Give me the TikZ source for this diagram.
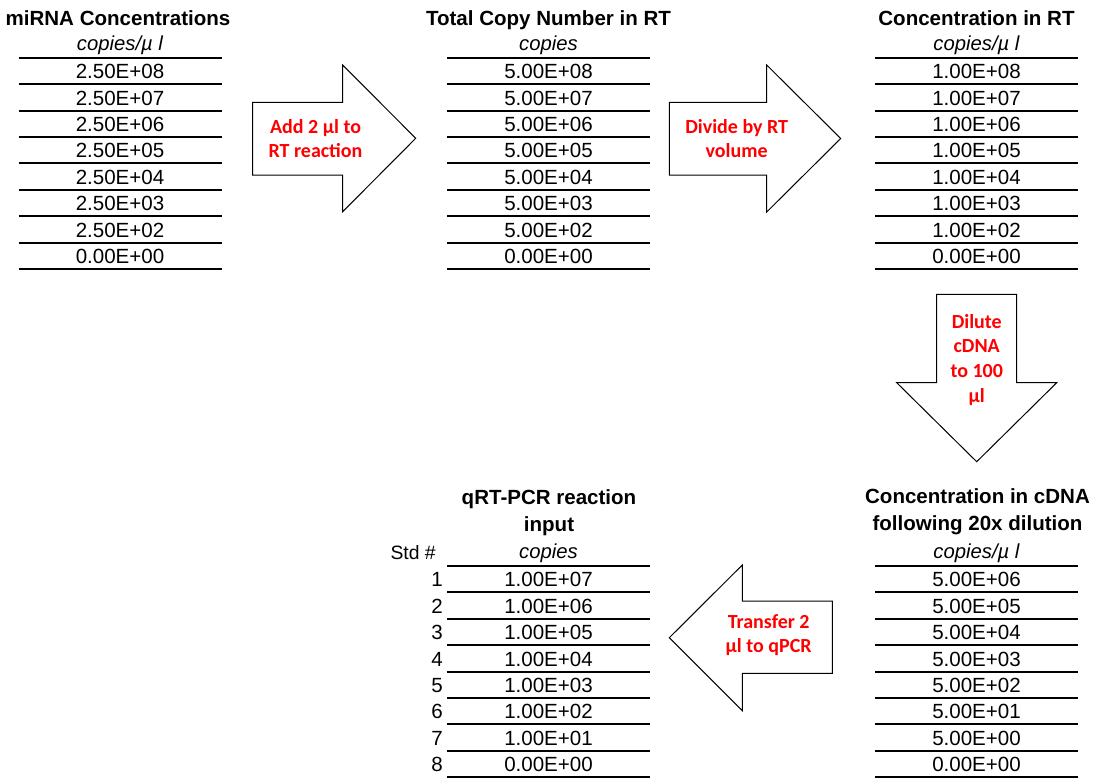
\documentclass[tikz,border=0pt]{standalone}
\usepackage{fontspec}
\setmainfont{Liberation Sans}
\newfontfamily\calfont{Carlito}
\begin{document}
\begin{tikzpicture}[x=0.75pt,y=-0.75pt,
  ttl/.style={font=\fontsize{15.4}{20.25}\selectfont\bfseries, align=center, inner sep=0pt},
  sub/.style={font=\fontsize{15.2}{18}\selectfont\itshape, anchor=base, inner sep=0pt},
  val/.style={font=\fontsize{15.4}{18}\selectfont, anchor=base, inner sep=0pt},
  rule/.style={line width=1.5pt},
  blockarrow/.style={draw=black, line width=0.75pt, fill=white, line join=miter},
  lab/.style={font=\calfont\fontsize{15}{18.5}\selectfont\bfseries, text=red, align=center, inner sep=0pt}
]
\useasboundingbox (0,0) rectangle (1096,779);

% ---------- block arrows ----------
\draw[blockarrow] (252.7,102.3) -- (342.7,102.3) -- (342.7,65) -- (415.7,138.3) -- (342.7,211.7) -- (342.7,175) -- (252.7,175) -- cycle;
\node[lab] (L1) at (315.5,138.5) {Add 2 µl to\\RT reaction};

\draw[blockarrow] (669.3,102.3) -- (766.7,102.3) -- (766.7,65) -- (840.7,138.5) -- (766.7,212) -- (766.7,175) -- (669.3,175) -- cycle;
\node[lab] (L2) at (736.7,138.5) {Divide by RT\\volume};

\draw[blockarrow] (936.7,294.3) -- (1016.7,294.3) -- (1016.7,382.7) -- (1056.7,382.7) -- (976.7,461.7) -- (896.7,382.7) -- (936.7,382.7) -- cycle;
\node[lab] (L3) at (976.7,359.8) {Dilute\\cDNA\\to 100\\µl};

\draw[blockarrow] (832.3,601) -- (742.3,601) -- (742.3,565) -- (669.3,637.7) -- (742.3,710.7) -- (742.3,673.3) -- (832.3,673.3) -- cycle;
\node[lab] (L4) at (768.7,635.1) {Transfer 2\\µl to qPCR};

% ---------- table A: miRNA Concentrations ----------
\node[ttl, anchor=base] (At) at (118,25) {miRNA Concentrations};
\node[sub] (As) at (120,50) {copies/µ l};
\draw[rule] (18.5,57.7) -- (222,57.7);
\foreach \v [count=\i] in {2.50E+08,2.50E+07,2.50E+06,2.50E+05,2.50E+04,2.50E+03,2.50E+02,0.00E+00} {
  \pgfmathsetmacro\yy{57.7+26.4*\i}
  \node[val] (A\i) at (120,{\yy-5.5}) {\v};
  \draw[rule] (18.5,\yy) -- (222,\yy);
}

% ---------- table B: Total Copy Number in RT ----------
\node[ttl, anchor=base] (Bt) at (548.5,25) {Total Copy Number in RT};
\node[sub] (Bs) at (548.5,50) {copies};
\draw[rule] (447,57.7) -- (650,57.7);
\foreach \v [count=\i] in {5.00E+08,5.00E+07,5.00E+06,5.00E+05,5.00E+04,5.00E+03,5.00E+02,0.00E+00} {
  \pgfmathsetmacro\yy{57.7+26.4*\i}
  \node[val] (B\i) at (548.5,{\yy-5.5}) {\v};
  \draw[rule] (447,\yy) -- (650,\yy);
}

% ---------- table C: Concentration in RT ----------
\node[ttl, anchor=base] (Ct) at (976.5,25) {Concentration in RT};
\node[sub] (Cs) at (976.5,50) {copies/µ l};
\draw[rule] (875,57.7) -- (1078,57.7);
\foreach \v [count=\i] in {1.00E+08,1.00E+07,1.00E+06,1.00E+05,1.00E+04,1.00E+03,1.00E+02,0.00E+00} {
  \pgfmathsetmacro\yy{57.7+26.4*\i}
  \node[val] (C\i) at (976.5,{\yy-5.5}) {\v};
  \draw[rule] (875,\yy) -- (1078,\yy);
}

% ---------- table D: Concentration in cDNA ----------
\node[ttl] (Dt) at (977.5,512.2) {Concentration in cDNA\\following 20x dilution};
\node[sub] (Ds) at (976.5,558.5) {copies/µ l};
\draw[rule] (875,566) -- (1078,566);
\foreach \v [count=\i] in {5.00E+06,5.00E+05,5.00E+04,5.00E+03,5.00E+02,5.00E+01,5.00E+00,0.00E+00} {
  \pgfmathsetmacro\yy{566+26.4*\i}
  \node[val] (D\i) at (976.5,{\yy-5.5}) {\v};
  \draw[rule] (875,\yy) -- (1078,\yy);
}

% ---------- table E: qRT-PCR reaction input ----------
\node[ttl] (Et) at (549,512.2) {qRT-PCR reaction\\input};
\node[sub] (Es) at (548.5,558.5) {copies};
\node[val, font=\fontsize{14.5}{17}\selectfont, anchor=base east] (Estd) at (436,559.5) {Std \#};
\draw[rule] (447,566) -- (650,566);
\foreach \v [count=\i] in {1.00E+07,1.00E+06,1.00E+05,1.00E+04,1.00E+03,1.00E+02,1.00E+01,0.00E+00} {
  \pgfmathsetmacro\yy{566+26.4*\i}
  \node[val] (E\i) at (548.5,{\yy-5.5}) {\v};
  \node[val, anchor=base east] (En\i) at (443,{\yy-5.5}) {\i};
  \draw[rule] (447,\yy) -- (650,\yy);
}
\end{tikzpicture}
\end{document}
